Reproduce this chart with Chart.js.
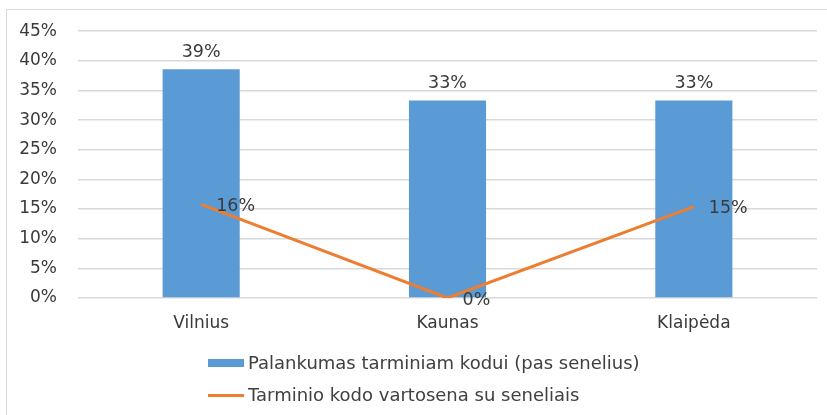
<!DOCTYPE html>
<html>
<head>
<meta charset="utf-8">
<script src="https://cdn.jsdelivr.net/npm/chart.js@4"></script>
<style>
  html, body { margin: 0; padding: 0; background: #fff; }
  body { width: 827px; height: 415px; position: relative; overflow: hidden; font-family: "DejaVu Sans", sans-serif; }
  #frame { position: absolute; left: 6px; top: 9px; width: 900px; height: 500px; border: 1px solid #d9d9d9; box-sizing: border-box; }
  #chart { position: absolute; left: 0; top: 0; }
  #legend { position: absolute; left: 208px; top: 347px; color: #404040; font-size: 18px; }
  .row { display: flex; align-items: center; height: 32px; line-height: 22px; }
  .swatch { width: 36px; margin-right: 4px; }
</style>
</head>
<body>
<div id="frame"></div>
<canvas id="chart" width="827" height="415"></canvas>
<div id="legend"></div>
<script>
// Data
const cities = ['Vilnius', 'Kaunas', 'Klaipėda'];
const favourValues = [38.6, 33.3, 33.3];   // Palankumas tarminiam kodui (pas senelius)
const usageValues = [15.8, 0, 15.4];       // Tarminio kodo vartosena su seneliais
const seriesNames = ['Palankumas tarminiam kodui (pas senelius)', 'Tarminio kodo vartosena su seneliais'];
const yTicks = [0, 5, 10, 15, 20, 25, 30, 35, 40, 45];

const textColor = '#3a3a3a';
const fontFamily = '"DejaVu Sans", sans-serif';

// draw the value labels (bar: above, line: to the right of the point)
const valueLabels = {
    id: 'valueLabels',
    afterDatasetsDraw(chart) {
        const ctx = chart.ctx;
        ctx.save();
        ctx.font = '17.5px ' + fontFamily;
        ctx.fillStyle = textColor;
        chart.data.datasets.forEach((ds, i) => {
            const meta = chart.getDatasetMeta(i);
            meta.data.forEach((el, j) => {
                const txt = Math.round(ds.data[j]) + '%';
                if (ds.type === 'bar') {
                    ctx.textAlign = 'center';
                    ctx.textBaseline = 'bottom';
                    ctx.fillText(txt, el.x, el.y - 8);
                } else {
                    ctx.textAlign = 'left';
                    ctx.textBaseline = 'middle';
                    ctx.fillText(txt, el.x + 15, el.y + 2);
                }
            });
        });
        ctx.restore();
    }
};

const chart = new Chart(document.getElementById('chart').getContext('2d'), {
    data: {
        labels: cities,
        datasets: [{
            type: 'line',
            label: seriesNames[1],
            data: usageValues,
            borderColor: '#ed7d31',
            backgroundColor: '#ed7d31',
            borderWidth: 3,
            pointRadius: 0,
            tension: 0,
            order: 0
        }, {
            type: 'bar',
            label: seriesNames[0],
            data: favourValues,
            backgroundColor: '#5b9bd5',
            borderColor: '#5b9bd5',
            borderWidth: 0,
            categoryPercentage: 1,
            barPercentage: 0.313,
            order: 1
        }]
    },
    options: {
        responsive: false,
        animation: false,
        layout: { padding: { left: 0, right: 10, top: 29, bottom: 0 } },
        plugins: {
            legend: { display: false },
            tooltip: { enabled: false }
        },
        scales: {
            x: {
                grid: { display: false, drawTicks: false },
                border: { display: false },
                ticks: { color: textColor, font: { family: fontFamily, size: 17 }, padding: 15 },
                afterFit(scale) { scale.height = 117; }
            },
            y: {
                min: 0,
                max: 45,
                afterBuildTicks(scale) { scale.ticks = yTicks.map(v => ({ value: v })); },
                grid: { color: '#d9d9d9', lineWidth: 1.5, drawTicks: false },
                border: { display: false },
                ticks: {
                    color: textColor,
                    font: { family: fontFamily, size: 17 },
                    padding: 21,
                    callback: v => v + '%'
                },
                afterFit(scale) { scale.width = 78; }
            }
        }
    },
    plugins: [valueLabels]
});

// legend in a vertical list, built from the datasets
const legend = document.getElementById('legend');
[1, 0].forEach(i => {
    const ds = chart.data.datasets[i];
    const row = document.createElement('div');
    row.className = 'row';
    const sw = document.createElement('div');
    sw.className = 'swatch';
    sw.style.background = ds.backgroundColor;
    sw.style.height = ds.type === 'bar' ? '8px' : '3px';
    const label = document.createElement('span');
    label.textContent = ds.label;
    row.appendChild(sw);
    row.appendChild(label);
    legend.appendChild(row);
});
</script>
</body>
</html>
